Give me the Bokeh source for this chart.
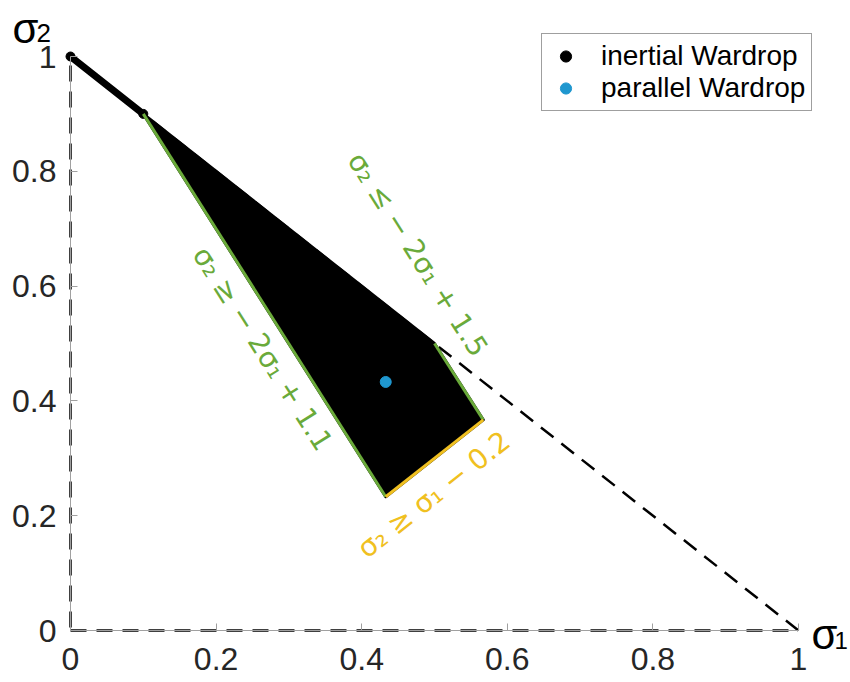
import math
from bokeh.plotting import figure
from bokeh.models import Range1d, FixedTicker, Label
from bokeh.embed import file_html
from bokeh.resources import INLINE

# ---------------- data ----------------
simplex_s1 = [0.0, 1.0, 0.0, 0.0]
simplex_s2 = [0.0, 0.0, 1.0, 0.0]

segment_s1 = [0.0, 0.1]          # inertial Wardrop: thin part of the set
segment_s2 = [1.0, 0.9]

region_s1 = [0.1, 0.5, 0.567, 0.433]   # inertial Wardrop: polygon part
region_s2 = [0.9, 0.5, 0.367, 0.233]

parallel_s1 = [0.433]
parallel_s2 = [0.433]

ticks = [0, 0.2, 0.4, 0.6, 0.8, 1]
tick_labels = ["0", "0.2", "0.4", "0.6", "0.8", "1"]

constraint_texts = ["σ₂ ≥ − 2σ₁ + 1.1", "σ₂ ≤ − 2σ₁ + 1.5", "σ₂ ≥ σ₁ − 0.2"]
constraint_s1 = [0.264, 0.477, 0.499]
constraint_s2 = [0.491, 0.655, 0.237]
constraint_slopes = [-2.0, -2.0, 1.0]

# ---------------- styles ----------------
FONT = "Liberation Sans"
ANN_FONT = "DejaVu Sans"
GREEN = "#6aaa3a"
YELLOW = "#f0c020"
BLUE = "#1f97cf"
W, H = 850, 682
PX_X = 728.0   # pixels per unit along sigma1
PX_Y = 574.0   # pixels per unit along sigma2
X0, Y0 = 70.0, 630.0   # pixel position of the origin

p = figure(width=W, height=H, output_backend="svg", toolbar_location=None,
           x_range=Range1d(-X0 / PX_X, (W - X0) / PX_X),
           y_range=Range1d(-(H - Y0) / PX_Y, Y0 / PX_Y),
           min_border=0, min_border_left=0, min_border_right=0,
           min_border_top=0, min_border_bottom=0)
p.outline_line_color = None
p.grid.visible = False
p.background_fill_color = "white"
p.border_fill_color = "white"

for ax in (p.xaxis, p.yaxis):
    ax.fixed_location = 0
    ax.bounds = (0, 1)
    ax.ticker = FixedTicker(ticks=ticks)
    ax.major_label_overrides = {t: l for t, l in zip(ticks, tick_labels)}
    ax.axis_line_color = "#a0a0a0"
    ax.axis_line_width = 1
    ax.major_tick_line_color = "#a0a0a0"
    ax.major_tick_in = 7
    ax.major_tick_out = 0
    ax.minor_tick_line_color = None
    ax.major_label_text_font = FONT
    ax.major_label_text_font_size = "32px"
    ax.major_label_text_color = "#262626"
p.xaxis.major_label_standoff = 17
p.yaxis.major_label_standoff = 14

# dashed simplex
p.line(simplex_s1, simplex_s2, line_color="black", line_width=2.5, line_dash="16 10")

# inertial Wardrop set
p.patch(region_s1, region_s2, fill_color="black", line_color="black", line_width=3,
        line_join="round")
p.line(segment_s1, segment_s2, line_color="black", line_width=7, line_cap="round")
p.scatter(segment_s1, segment_s2, size=9, color="black", legend_label="inertial Wardrop")

# constraint boundaries
p.line([region_s1[0], region_s1[3]], [region_s2[0], region_s2[3]], line_color=GREEN, line_width=3)
p.line([region_s1[1], region_s1[2]], [region_s2[1], region_s2[2]], line_color=GREEN, line_width=3)
p.line([region_s1[3], region_s1[2]], [region_s2[3], region_s2[2]], line_color=YELLOW, line_width=3)

# parallel Wardrop
p.scatter(parallel_s1, parallel_s2, size=11, color=BLUE, legend_label="parallel Wardrop")

# constraint labels
colors = [GREEN, GREEN, YELLOW]
for txt, x, y, m, c in zip(constraint_texts, constraint_s1, constraint_s2, constraint_slopes, colors):
    ang = math.degrees(math.atan(m * PX_Y / PX_X))
    p.add_layout(Label(x=x, y=y, text=txt, angle=ang, angle_units="deg",
                       text_align="center", text_baseline="middle",
                       text_color=c, text_font=ANN_FONT, text_font_size="28px"))

# axis name labels
def axis_name(x, y, t, size):
    p.add_layout(Label(x=x, y=y, text=t, text_font=FONT, text_font_size=size,
                       text_color="black", text_baseline="alphabetic", text_align="left"))

axis_name(-0.0797, 1.0488, "σ", "42px")
axis_name(-0.0467, 1.0418, "2", "26px")
axis_name(1.0179, -0.0070, "σ", "42px")
axis_name(1.0495, -0.0174, "1", "24px")

# legend
lg = p.legend[0]
lg.location = (541, H - 111)
lg.border_line_color = "#404040"
lg.border_line_width = 1
lg.background_fill_alpha = 1.0
lg.label_text_font = FONT
lg.label_text_font_size = "28px"
lg.label_text_color = "black"
lg.padding = 6
lg.spacing = 0
lg.margin = 0
lg.glyph_width = 35
lg.glyph_height = 28
lg.label_height = 28
lg.label_width = 204
lg.label_standoff = 18

open("out.html", "w").write(file_html(p, INLINE))
